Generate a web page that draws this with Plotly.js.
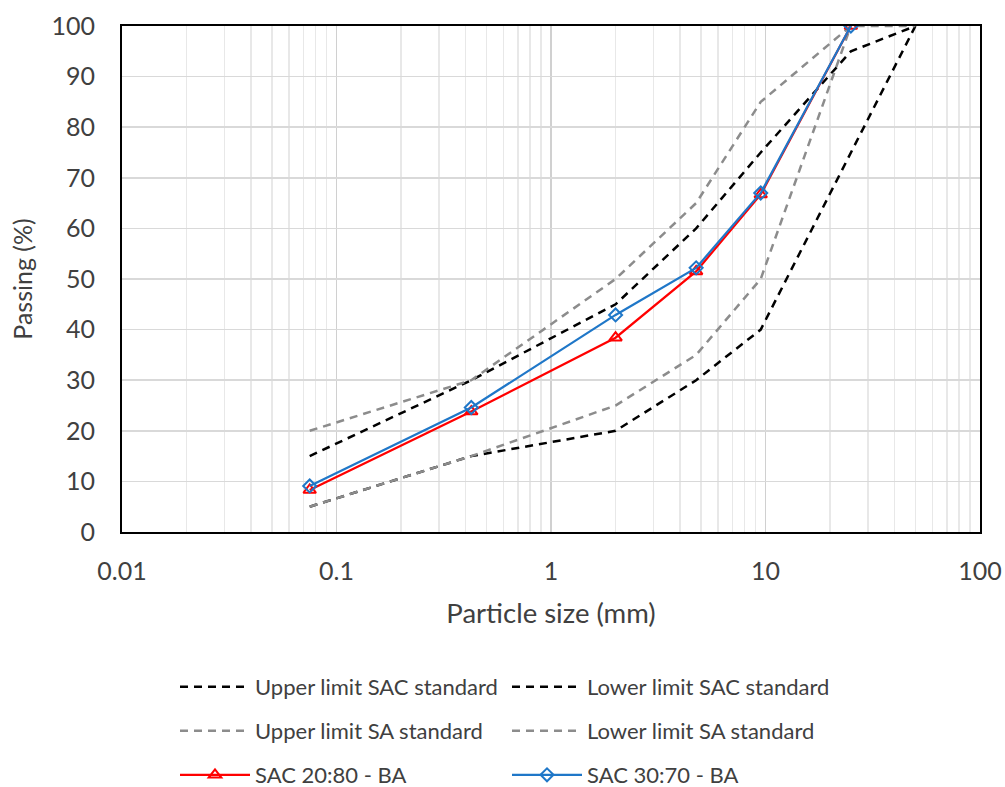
<!DOCTYPE html>
<html>
<head>
<meta charset="utf-8">
<script src="https://cdn.plot.ly/plotly-3.0.1.min.js"></script>
<style>html,body{margin:0;padding:0;background:#fff;}#chart{width:1005px;height:787px;}</style>
</head>
<body>
<div id="chart"></div>
<script>
// Sieve sizes (mm)
const sizes = [0.075, 0.425, 2, 4.75, 9.5, 25, 50];
const sizesMix = [0.075, 0.425, 2, 4.75, 9.5, 25];

const upperSAC = [15, 30, 45, 60, 75, 95, 100];
const lowerSAC = [5, 15, 20, 30, 40, 75, 100];
const upperSA = [20, 30, 50, 65, 85, 100, 100];
const lowerSA = [5, 15, 25, 35, 50, 100];
const sac2080 = [8.3, 23.8, 38.4, 51.5, 66.7, 100];
const sac3070 = [9.1, 24.6, 42.9, 52.2, 67.0, 100];

const seriesNames = ["Upper limit SAC standard", "Lower limit SAC standard",
  "Upper limit SA standard", "Lower limit SA standard",
  "SAC 20:80 - BA", "SAC 30:70 - BA"];
const xTickVals = [0.01, 0.1, 1, 10, 100];
const xTickText = ["0.01", "0.1", "1", "10", "100"];

const FONT = "Lato, 'Open Sans', sans-serif";
const dashPat = "8px,6px";

const traces = [
  {x: sizes, y: upperSAC, name: seriesNames[0], mode: "lines", line: {color: "#000000", width: 2.5, dash: dashPat}, legend: "legend"},
  {x: sizes, y: lowerSAC, name: seriesNames[1], mode: "lines", line: {color: "#000000", width: 2.5, dash: dashPat}, legend: "legend2"},
  {x: sizes, y: upperSA, name: seriesNames[2], mode: "lines", line: {color: "#8c8c8c", width: 2.5, dash: dashPat}, legend: "legend3"},
  {x: sizesMix, y: lowerSA, name: seriesNames[3], mode: "lines", line: {color: "#8c8c8c", width: 2.5, dash: dashPat}, legend: "legend4"},
  {x: sizesMix, y: sac2080, name: seriesNames[4], mode: "lines+markers", line: {color: "#ff0000", width: 2.2},
   marker: {symbol: "triangle-up-open", size: 11, color: "#ff0000", line: {width: 2, color: "#ff0000"}}, legend: "legend5"},
  {x: sizesMix, y: sac3070, name: seriesNames[5], mode: "lines+markers", line: {color: "#1f77c8", width: 2.2},
   marker: {symbol: "diamond-open", size: 10, color: "#1f77c8", line: {width: 2, color: "#1f77c8"}}, legend: "legend6"}
];

function leg(px, py) {
  return {xref: "container", yref: "container", x: px / 1005, y: 1 - py / 787,
    orientation: "h", xanchor: "left", yanchor: "middle", itemwidth: 70, bgcolor: "rgba(0,0,0,0)",
    font: {family: FONT, size: 22, color: "#404040"}};
}

const layout = {
  width: 1005, height: 787,
  margin: {l: 122, r: 25, t: 26, b: 255},
  paper_bgcolor: "#ffffff", plot_bgcolor: "#ffffff",
  font: {family: FONT, color: "#404040"},
  xaxis: {
    type: "log", range: [-2, 2], tickvals: xTickVals, ticktext: xTickText,
    showgrid: true, gridcolor: "#d0d0d0", gridwidth: 1.5,
    minor: {dtick: "D1", showgrid: true, gridcolor: "#e8e8e8", gridwidth: 1.5},
    showline: true, linecolor: "#000000", linewidth: 2, mirror: true,
    ticks: "", zeroline: false, ticklabelstandoff: 16,
    tickfont: {family: FONT, size: 25, color: "#404040"},
    title: {text: "Particle size (mm)", font: {family: FONT, size: 27.5, color: "#404040"}, standoff: 20}
  },
  yaxis: {
    range: [0, 100], dtick: 10, showgrid: true, gridcolor: "#d9d9d9", gridwidth: 1.5,
    showline: true, linecolor: "#000000", linewidth: 2, mirror: true,
    ticks: "", zeroline: false, ticklabelstandoff: 20,
    tickfont: {family: FONT, size: 25, color: "#404040"},
    title: {text: "Passing (%)", font: {family: FONT, size: 25, color: "#404040"}, standoff: 12}
  },
  legend: leg(175, 687),
  legend2: leg(507, 687),
  legend3: leg(175, 731),
  legend4: leg(507, 731),
  legend5: leg(175, 775),
  legend6: leg(507, 775),
  showlegend: true
};

Plotly.newPlot("chart", traces, layout, {displayModeBar: false, staticPlot: true});
</script>
</body>
</html>
